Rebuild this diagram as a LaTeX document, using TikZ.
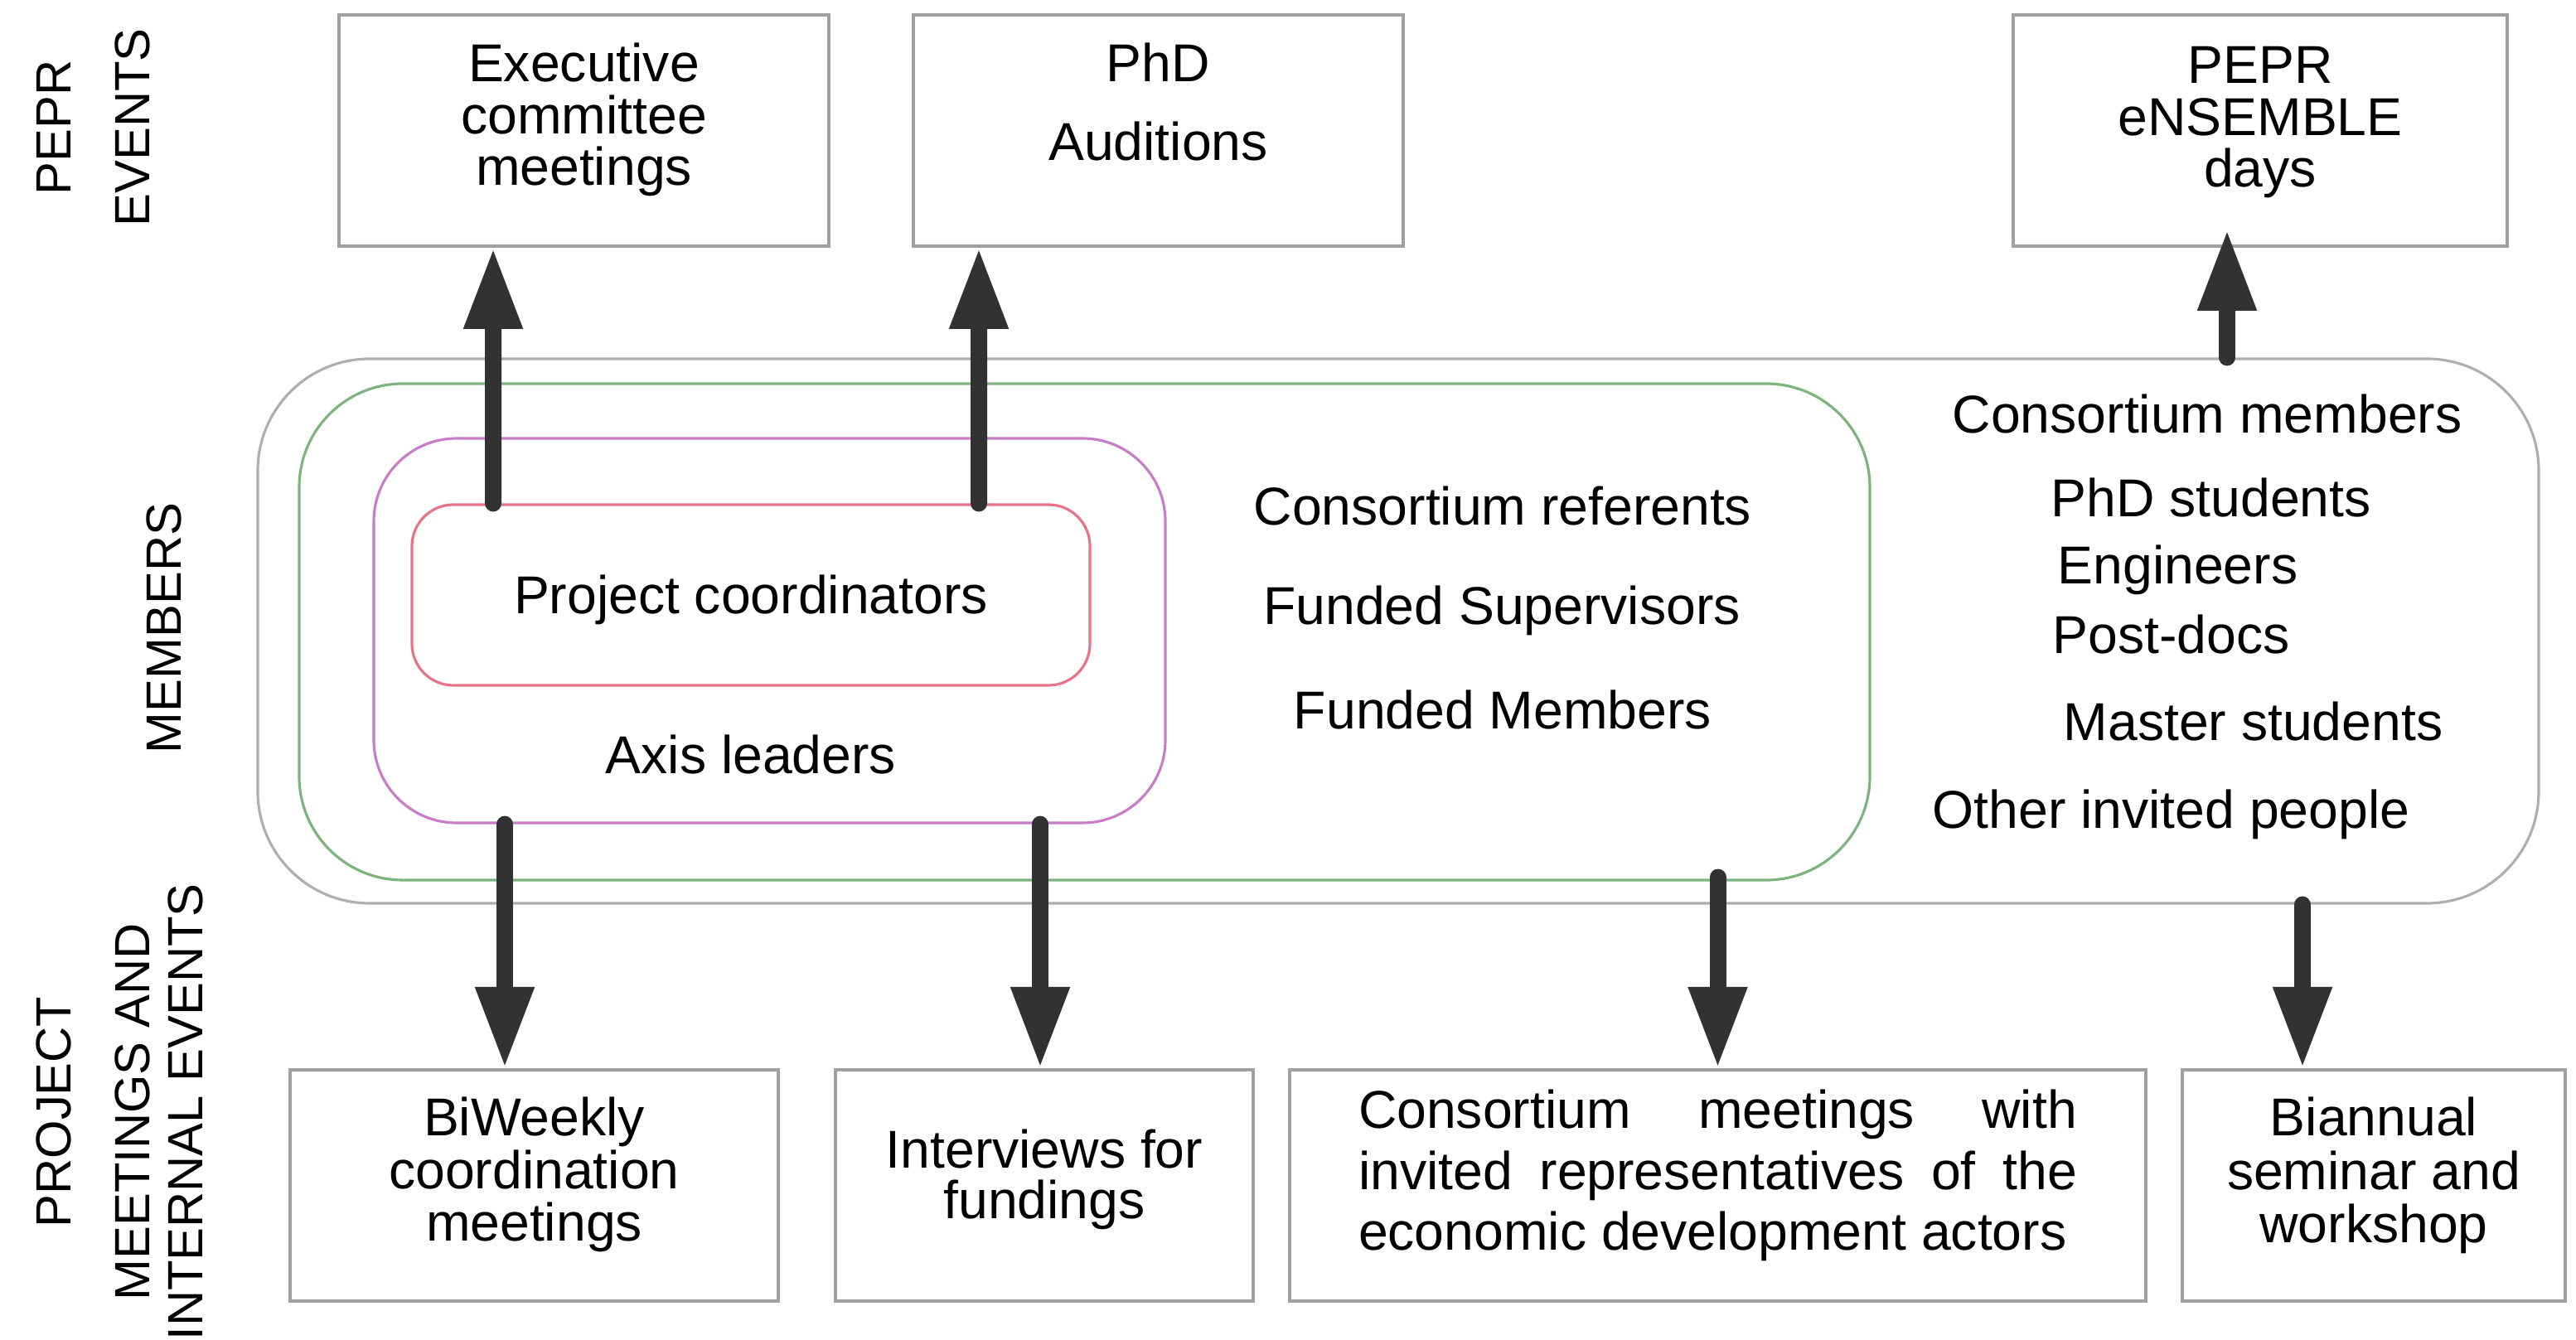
\documentclass[tikz,border=0pt]{standalone}
\usepackage{fontspec}
\setmainfont{Liberation Sans}
\usetikzlibrary{arrows.meta, positioning, calc}
\definecolor{boxgray}{RGB}{160,160,160}
\definecolor{outergray}{RGB}{175,175,175}
\definecolor{consgreen}{RGB}{125,180,125}
\definecolor{axismagenta}{RGB}{200,125,200}
\definecolor{coordred}{RGB}{230,115,135}
\definecolor{arrowgray}{RGB}{50,50,50}
\newcommand{\evfont}[1]{\fontsize{18.3pt}{#1}\selectfont}

\begin{document}
\begin{tikzpicture}[
        evbox/.style={rectangle, draw=boxgray, line width=1.1pt, inner sep=0pt, align=center, anchor=north, minimum height=2.79cm},
        zone/.style={rectangle, line width=0.9pt},
        member/.style={inner sep=0pt, font=\evfont{22pt}},
        rowlabel/.style={inner sep=0pt, rotate=90, align=center, font=\fontsize{17pt}{18.2pt}\selectfont},
        bigarrow/.style={-{Triangle[length=0.98cm, width=0.66cm]}, line width=0.2cm, line cap=round, arrowgray}
    ]
    \useasboundingbox (0,0) rectangle (31.08,16.16);

    % row labels
    \node[rowlabel] (pepr) at (1.125,14.62) {PEPR\\[8.8pt]EVENTS};
    \node[rowlabel] (members) at (1.98,8.58) {MEMBERS};
    \node[rowlabel] (project) at (1.445,2.74) {PROJECT\\[8.8pt]MEETINGS AND\\INTERNAL EVENTS};

    % nested member groups
    \node[zone, draw=outergray, rounded corners=1.35cm, minimum width=27.52cm, minimum height=6.57cm] (all) at (16.87,8.545) {};
    \node[zone, draw=consgreen, rounded corners=1.25cm, minimum width=18.95cm, minimum height=5.99cm] (consort) at (13.085,8.535) {};
    \node[zone, draw=axismagenta, rounded corners=1cm, minimum width=9.55cm, minimum height=4.64cm] (axis) at (9.285,8.55) {};
    \node[zone, draw=coordred, rounded corners=0.5cm, minimum width=8.18cm, minimum height=2.18cm] (coord) at (9.06,8.98) {};

    \node[member, anchor=base] (pcoord) at (9.06,8.75) {Project coordinators};
    \node[member, anchor=base] (axisl) at (9.06,6.82) {Axis leaders};
    \node[member, anchor=base] (referents) at (18.13,9.82) {Consortium referents};
    \node[member, anchor=base] (supervisors) at (18.12,8.62) {Funded Supervisors};
    \node[member, anchor=base] (funded) at (18.13,7.36) {Funded Members};
    \node[member, anchor=base west] (cmembers) at (23.55,10.93) {Consortium members};
    \node[member, anchor=base west] (phds) at (24.74,9.92) {PhD students};
    \node[member, anchor=base west] (engineers) at (24.82,9.11) {Engineers};
    \node[member, anchor=base west] (postdocs) at (24.76,8.27) {Post-docs};
    \node[member, anchor=base west] (masters) at (24.89,7.22) {Master students};
    \node[member, anchor=base west] (invited) at (23.31,6.16) {Other invited people};

    % PEPR events
    \node[evbox, minimum width=5.91cm, text height=2.06cm, text depth=0.73cm, font=\evfont{17.9pt}] (exec) at (7.045,16.00) {Executive\\committee\\meetings};
    \node[evbox, minimum width=5.91cm, text height=1.755cm, text depth=1.035cm, font=\evfont{26.9pt}] (phd) at (13.975,16.00) {PhD\\Auditions};
    \node[evbox, minimum width=5.96cm, text height=2.08cm, text depth=0.71cm, font=\evfont{17.9pt}] (ensemble) at (27.27,16.00) {PEPR\\eNSEMBLE\\days};

    % project meetings and internal events
    \node[evbox, minimum width=5.89cm, text height=2.07cm, text depth=0.72cm, font=\evfont{18.1pt}] (biweekly) at (6.445,3.27) {BiWeekly\\coordination\\meetings};
    \node[evbox, minimum width=5.04cm, text height=1.80cm, text depth=0.99cm, font=\evfont{17.6pt}] (interviews) at (12.60,3.27) {Interviews for\\fundings};
    \node[evbox, minimum width=10.33cm, text width=8.67cm, align=justify, text height=0.71cm, text depth=2.08cm, font=\evfont{20.9pt}] (meetings) at (20.725,3.27) {Consortium meetings with\linebreak invited representatives of the\linebreak economic development actors};
    \node[evbox, minimum width=4.62cm, text height=2.09cm, text depth=0.70cm, font=\evfont{18.35pt}] (biannual) at (28.64,3.27) {Biannual\\seminar and\\workshop};

    \draw[bigarrow] ($(exec.south |- coord.north)+(-1.095,0)$) -- ([xshift=-1.095cm]exec.south);
    \draw[bigarrow] ($(phd.south |- coord.north)+(-2.165,0)$) -- ([xshift=-2.165cm]phd.south);
    \draw[bigarrow] ($(ensemble.south |- all.north)+(-0.40,0)$) -- ([xshift=-0.40cm, yshift=0.22cm]ensemble.south);
    \draw[bigarrow] ($(biweekly.north |- axis.south)+(-0.355,0)$) -- ([xshift=-0.355cm]biweekly.north);
    \draw[bigarrow] ($(interviews.north |- axis.south)+(-0.05,0)$) -- ([xshift=-0.05cm]interviews.north);
    \draw[bigarrow] ($(meetings.north |- consort.south)+(0,0.05)$) -- (meetings.north);
    \draw[bigarrow] ($(biannual.north |- all.south)+(-0.86,0)$) -- ([xshift=-0.86cm]biannual.north);
\end{tikzpicture}
\end{document}
